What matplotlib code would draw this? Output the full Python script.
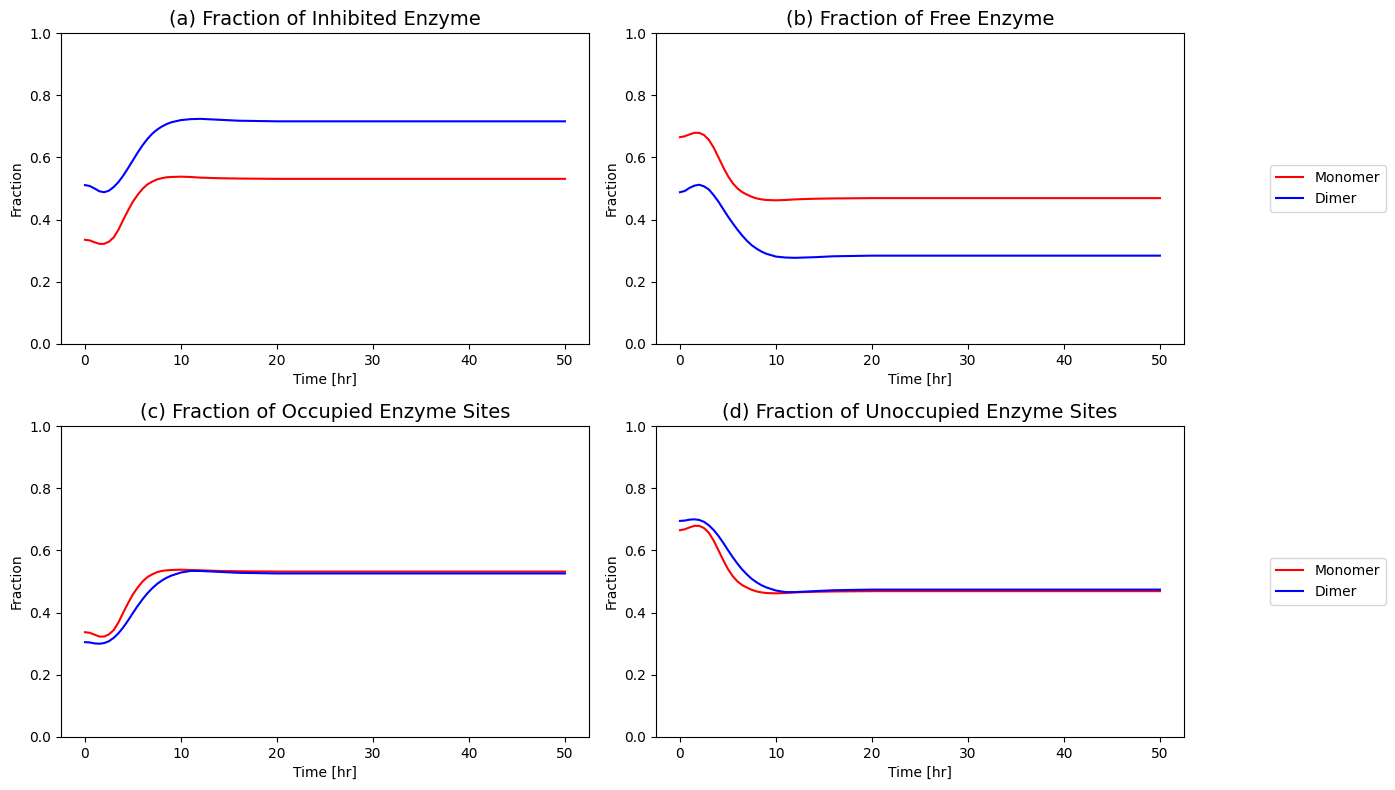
import matplotlib

matplotlib.use("Agg")
import matplotlib.pyplot as plt

# sample times [hr]
time_hr = [0, 0.5, 1, 1.5, 2, 2.5, 3, 3.5, 4, 4.5, 5, 5.5, 6, 6.5, 7, 7.5, 8, 8.5, 9,
           10, 11, 12, 14, 16, 20, 30, 40, 50]

# (a) inhibited enzyme
inhib_mono = [0.335, 0.333, 0.327, 0.322, 0.322, 0.329, 0.343, 0.368, 0.400, 0.430, 0.458,
              0.480, 0.499, 0.513, 0.522, 0.529, 0.533, 0.536, 0.537,
              0.538, 0.537, 0.535, 0.533, 0.532, 0.531, 0.531, 0.531, 0.531]
inhib_dimer = [0.511, 0.508, 0.500, 0.491, 0.488, 0.493, 0.505, 0.521, 0.542, 0.566, 0.591,
               0.616, 0.639, 0.659, 0.676, 0.689, 0.699, 0.707, 0.713,
               0.720, 0.723, 0.724, 0.721, 0.718, 0.716, 0.716, 0.716, 0.716]

# (b) free enzyme
free_mono = [0.665, 0.668, 0.674, 0.679, 0.679, 0.672, 0.657, 0.632, 0.601, 0.569, 0.540,
             0.517, 0.500, 0.488, 0.480, 0.473, 0.468, 0.465, 0.463,
             0.462, 0.463, 0.465, 0.467, 0.468, 0.469, 0.469, 0.469, 0.469]
free_dimer = [0.488, 0.492, 0.502, 0.509, 0.512, 0.507, 0.497, 0.479, 0.458, 0.434, 0.410,
              0.388, 0.367, 0.348, 0.331, 0.317, 0.306, 0.297, 0.290,
              0.281, 0.278, 0.277, 0.279, 0.282, 0.284, 0.284, 0.284, 0.284]

# (c) occupied sites
occ_mono = [0.337, 0.335, 0.329, 0.323, 0.323, 0.330, 0.344, 0.369, 0.401, 0.431, 0.459,
            0.481, 0.500, 0.514, 0.523, 0.530, 0.534, 0.536, 0.537,
            0.538, 0.537, 0.536, 0.534, 0.533, 0.532, 0.532, 0.532, 0.532]
occ_dimer = [0.305, 0.304, 0.301, 0.300, 0.302, 0.308, 0.319, 0.334, 0.353, 0.375, 0.399,
             0.422, 0.443, 0.462, 0.478, 0.492, 0.503, 0.512, 0.519,
             0.529, 0.534, 0.534, 0.531, 0.528, 0.526, 0.526, 0.526, 0.526]

# (d) unoccupied sites
unocc_mono = [0.665, 0.668, 0.674, 0.679, 0.679, 0.672, 0.657, 0.632, 0.601, 0.569, 0.540,
              0.517, 0.500, 0.488, 0.480, 0.473, 0.468, 0.465, 0.463,
              0.462, 0.463, 0.465, 0.467, 0.468, 0.469, 0.469, 0.469, 0.469]
unocc_dimer = [0.695, 0.696, 0.699, 0.700, 0.698, 0.692, 0.681, 0.666, 0.647, 0.625, 0.601,
               0.578, 0.557, 0.538, 0.522, 0.508, 0.497, 0.488, 0.481,
               0.471, 0.466, 0.466, 0.469, 0.472, 0.474, 0.474, 0.474, 0.474]

panels = [
    ("(a) Fraction of Inhibited Enzyme", inhib_mono, inhib_dimer),
    ("(b) Fraction of Free Enzyme", free_mono, free_dimer),
    ("(c) Fraction of Occupied Enzyme Sites", occ_mono, occ_dimer),
    ("(d) Fraction of Unoccupied Enzyme Sites", unocc_mono, unocc_dimer),
]

fig, axes = plt.subplots(2, 2, figsize=(13.95, 7.9), dpi=100)
fig.subplots_adjust(left=0.0437, right=0.8487, top=0.9582, bottom=0.0671,
                    wspace=0.127, hspace=0.264)

for i, (ax, (title, mono, dimer)) in enumerate(zip(axes.flat, panels)):
    ax.plot(time_hr, mono, color="red", label="Monomer")
    ax.plot(time_hr, dimer, color="blue", label="Dimer")
    ax.set_title(title, fontsize=14)
    ax.set_xlabel("Time [hr]")
    ax.set_ylabel("Fraction")
    ax.set_ylim(0, 1)
    if i % 2 == 1:
        ax.legend(loc="center left", bbox_to_anchor=(1.15, 0.5))

fig.savefig("out.png")
